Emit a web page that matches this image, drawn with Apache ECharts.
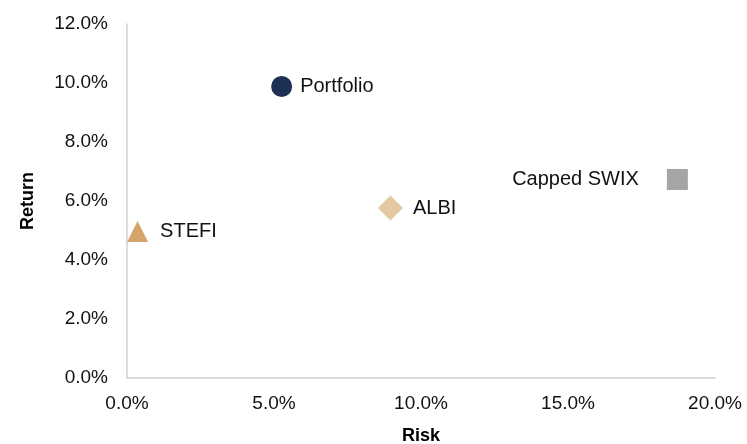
<!DOCTYPE html>
<html>
<head>
<meta charset="utf-8">
<script src="https://cdn.jsdelivr.net/npm/echarts@6/dist/echarts.min.js"></script>
<style>
  html, body { margin: 0; padding: 0; background: #fff; }
  #chart { width: 747px; height: 444px; }
</style>
</head>
<body>
<div id="chart"></div>
<script>
// risk / return points (in %)
var names = ['Portfolio', 'ALBI', 'Capped SWIX', 'STEFI'];
var risk = [5.26, 8.96, 18.72, 0.36];
var ret = [9.88, 5.76, 6.73, 4.97];
var symbols = ['circle', 'diamond', 'rect', 'triangle'];
var sizes = [21, 25, 21, 21];
var colors = ['#1f3057', '#e3c9a3', '#a5a5a5', '#d4a46a'];
var labelPos = ['right', 'right', 'left', 'right'];
var labelDist = [8, 10, 28, 12];

var myChart = echarts.init(document.getElementById('chart'));

var series = names.map(function (n, i) {
    return {
        name: n,
        type: 'scatter',
        symbol: symbols[i],
        symbolSize: sizes[i],
        itemStyle: { color: colors[i], opacity: 1 },
        label: {
            show: true,
            position: labelPos[i],
            distance: labelDist[i],
            formatter: n,
            color: '#111',
            fontFamily: 'Liberation Sans, Arial, sans-serif',
            fontSize: 20
        },
        data: [[risk[i], ret[i]]]
    };
});

var option = {
    animation: false,
    textStyle: { fontFamily: 'Liberation Sans, Arial, sans-serif' },
    grid: { left: 127, right: 32, top: 24, bottom: 66, containLabel: false, outerBoundsMode: 'none' },
    xAxis: {
        type: 'value',
        min: 0, max: 20, interval: 5,
        name: 'Risk',
        nameLocation: 'middle',
        nameGap: 49,
        nameTextStyle: { fontWeight: 'bold', fontSize: 18, color: '#000' },
        axisLine: { show: true, lineStyle: { color: '#d0d0d0', width: 1.5 } },
        axisTick: { show: false },
        splitLine: { show: false },
        axisLabel: {
            margin: 16,
            fontSize: 19,
            color: '#111',
            formatter: function (v) { return v.toFixed(1) + '%'; }
        }
    },
    yAxis: {
        type: 'value',
        min: 0, max: 12, interval: 2,
        name: 'Return',
        nameLocation: 'middle',
        nameGap: 90,
        nameRotate: 90,
        nameTextStyle: { fontWeight: 'bold', fontSize: 18, color: '#000' },
        axisLine: { show: true, lineStyle: { color: '#d0d0d0', width: 1.5 } },
        axisTick: { show: false },
        splitLine: { show: false },
        axisLabel: {
            margin: 19,
            fontSize: 19,
            color: '#111',
            formatter: function (v) { return v.toFixed(1) + '%'; }
        }
    },
    series: series
};

myChart.setOption(option);
</script>
</body>
</html>
